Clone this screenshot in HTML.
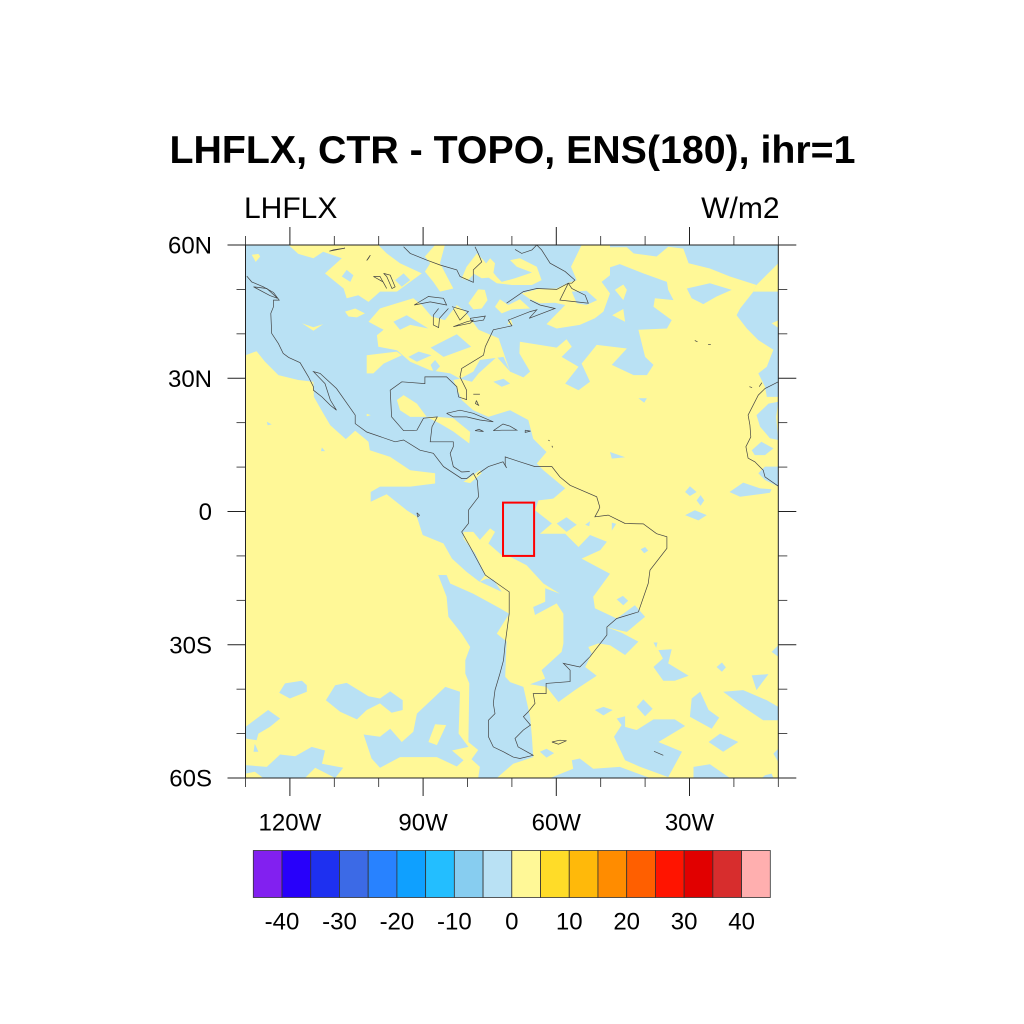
<!DOCTYPE html>
<html><head><meta charset="utf-8"><title>LHFLX map</title>
<style>html,body{margin:0;padding:0;background:#fff}svg{display:block}text{font-family:"Liberation Sans",Arial,sans-serif;fill:#000}</style>
</head><body>
<svg id="chart" xmlns="http://www.w3.org/2000/svg" width="1024" height="1024" viewBox="0 0 1024 1024">
<rect width="1024" height="1024" fill="#fff"/>
<defs><clipPath id="plotClip"><rect x="245.5" y="245" width="532.8" height="533"/></clipPath></defs>
<text x="512.5" y="163" text-anchor="middle" font-size="39.3" font-weight="bold">LHFLX, CTR - TOPO, ENS(180), ihr=1</text>
<text x="244" y="218" font-size="30">LHFLX</text>
<text x="779.5" y="218" font-size="30" text-anchor="end">W/m2</text>
<g id="field" clip-path="url(#plotClip)"></g>
<g id="coasts" clip-path="url(#plotClip)" fill="none" stroke="#444" stroke-width="0.7"></g>
<g id="axes"></g>
<g id="legend"></g>
</svg>
<script>
// Axis domain
const lonRange = [-130, -10];
const latRange = [60, -60];
const lonMajor = [-120, -90, -60, -30];
const lonLabels = ['120W', '90W', '60W', '30W'];
const lonMinor = [-130, -110, -100, -80, -70, -50, -40, -20, -10];
const latMajor = [60, 30, 0, -30, -60];
const latLabels = ['60N', '30N', '0', '30S', '60S'];
const latMinor = [50, 40, 20, 10, -10, -20, -40, -50];
// Colour levels
const cbLevels = [-40,-35,-30,-25,-20,-15,-10,-5,0,5,10,15,20,25,30,35,40];
const cbLabels = ['-40','-30','-20','-10','0','10','20','30','40'];
const cbColors = ['#8220f0','#2800fa','#1e30f0','#3c6ae6','#2882ff','#0fa0ff','#23beff','#87cdf0','#b9e1f4','#fff897','#ffdc28','#ffb90a','#ff8c00','#ff5f00','#ff1400','#e10000','#d72d2d','#ffafaf'];
// Study box: lon west, lon east, lat north, lat south
const studyBox = [-72, -65, 2, -10];
// Field regions (lon,lat pairs) of the class -5..0
const blueMain = [-130,60,-10,60,-10,25.8,-12.6,25.8,-13,28.1,-14.5,31.1,-12.6,32.6,-11.1,36.4,-14.5,38.6,-17.1,41.2,-19.4,44.2,-18.6,45.7,-15.6,49.5,-14.9,51,-20.9,52.9,-25.4,54.7,-30.2,55.9,-31.4,59.2,-34.8,59.6,-37.4,57.4,-42.6,58.1,-44.1,59.5,-47.9,59.5,-48.7,54.7,-45.7,55.7,-40.4,53.6,-35.1,51.7,-34.8,49.9,-33.6,47.6,-37.8,48,-38.1,46.1,-34,43.1,-35.1,41.2,-41.5,40.9,-40,34.8,-38.1,33,-39.6,30.7,-42.6,30.7,-47.5,33,-44.1,36.7,-50.9,37.5,-54.3,33.3,-52.4,29.2,-55,27.3,-58,28.8,-55,32.6,-58.8,34.8,-56.5,37.1,-57.7,38.8,-59.9,36.9,-68.2,38.2,-68.3,35.6,-65.9,31.5,-67.4,30.2,-70.4,31.5,-73.4,34.8,-77.5,31.1,-79,29.2,-81.7,29.9,-83.2,29.6,-81.3,25.1,-78.7,22.8,-75.3,21.3,-70.4,22.8,-66.3,20.6,-65.2,16.4,-62.2,13.4,-64.4,10.8,-62.9,9.3,-58,5.2,-60.7,2.9,-64,2.5,-64.8,0.3,-61,-2.7,-63.7,-5,-58,-5,-55,-8,-52.4,-5.3,-48.6,-6.8,-50.1,-8.7,-54.3,-10.6,-47.9,-14,-51.7,-19.2,-51.3,-21.8,-46.4,-24.1,-42.3,-21.1,-40,-23.7,-44.1,-27.1,-46,-26.7,-48.7,-26,-45.3,-27.3,-41.5,-29.3,-44.5,-32.3,-47.9,-30.1,-50.5,-29.7,-52.8,-30.5,-52,-32,-53.5,-35,-50.9,-37,-55.8,-40.2,-59.5,-42.9,-62.2,-39.5,-65.9,-38.9,-62.5,-37.6,-63.3,-35.7,-58.8,-31.6,-58.4,-29.7,-58.4,-23,-59.9,-20.7,-64.8,-23.3,-65.2,-21.5,-62.5,-20.3,-62.5,-17.3,-59.2,-18.5,-62.9,-16.2,-66.7,-12.1,-70.4,-10.2,-71.9,-10.2,-75.3,-7.2,-73.8,-4.6,-74.9,-3.8,-77.2,-6.4,-78.7,-4.6,-80.9,-4.6,-80.9,-6.1,-78.3,-9.4,-76,-14.3,-77.3,-15.8,-80.2,-13.6,-83.5,-10.6,-85.4,-7.2,-90.1,-5.3,-91.4,-1.2,-93.7,0.3,-98.2,3.9,-101.8,2.2,-101.8,4.4,-99.7,5.6,-92.9,5.6,-87.3,6.3,-87.3,8.6,-92.9,9.3,-97.4,12.3,-102,13.8,-102.3,15.7,-105.3,18.2,-107.4,16.3,-110.9,19.4,-112.5,22.1,-114.6,25.8,-114.7,29.2,-118.1,29.6,-122.6,30.7,-125.6,33.7,-127.5,36.1,-130,35.2];
const blueChile = [-86.6,-14.3,-84.7,-14.3,-83.9,-16.2,-78.7,-18.5,-72.7,-21.8,-70.6,-23,-73.4,-27.5,-71.2,-29.3,-71.5,-37.2,-70.4,-38.4,-67.4,-39.5,-65.9,-46.2,-65.5,-50.7,-65.2,-55.3,-69.7,-56.8,-73.4,-60,-77.6,-60,-77.2,-57.5,-79.1,-55.8,-77.6,-53.7,-79.8,-51.9,-79.6,-38.7,-80.5,-36.5,-80.5,-33.5,-79.4,-30.5,-81.3,-27.5,-84.3,-23.7,-84.7,-19.2];
const blueBlobs = [
[-77.2,-15.8,-72.3,-18.1,-74.2,-15.3,-75.7,-15.1],
[-103.4,-50.2,-99.7,-50.7,-97.4,-48.9,-94.8,-51.9,-92.2,-49.6,-91.4,-45.5,-85,-39.5,-81.7,-40.6,-82,-50,-79.8,-53,-83.5,-53.8,-80.9,-56,-82.4,-57.4,-86.9,-55.3,-95.2,-55.3,-99.7,-57.7,-101.6,-55.6],
[-122.4,-40.8,-121.1,-38.7,-117.3,-38.1,-116.2,-39.1,-116.2,-40.6,-120,-42.1],
[-111.9,-42.5,-109.8,-39.1,-107.2,-38.6,-102.3,-41.6,-99.7,-42.1,-97.4,-40.5,-94.6,-42.5,-94.6,-44.7,-97.1,-45.3,-99.7,-43.2,-102.7,-44.7,-104.9,-46.8,-108.7,-45.1],
[-130,-48.5,-124.9,-44.7,-122.2,-46.6,-124.5,-48.5,-127.1,-50,-127.5,-51.5,-130,-51.1],
[-130,-57.1,-125.2,-57.5,-122.2,-54.7,-118.8,-55.1,-115.1,-53,-112.1,-53.8,-112.8,-56.8,-108,-57.7,-109.8,-60,-114.3,-57.7,-116.6,-60,-126,-60,-127.9,-58.6,-130,-59],
[-127.9,-52.3,-127.1,-54.1,-128.2,-54.1],
[-31,-0.8,-28.8,0.3,-26.1,-0.8,-28,-2],
[-59.9,-2.7,-57.7,-1.3,-55.4,-3,-57.7,-4.6],
[-53.5,-3,-52.4,-2.2,-52.6,-3.3],
[-47.5,-2.5,-46.5,-2.8,-47.5,-4.3],
[-41,-8.5,-40,-8,-39.3,-8.8,-40.2,-9.4],
[-46.4,-19.8,-45,-19,-43.8,-20.1,-44.9,-21.1],
[-38.1,-29.5,-37.2,-29.5,-37.5,-30.7],
[-37,-31.2,-34,-31,-34.8,-34.2,-30.2,-37,-33.3,-38.1,-35.9,-38.1,-38.1,-35,-36,-33.1],
[-23.9,-35,-22.7,-34,-21.8,-35.1,-22.7,-36.1],
[-16,-36.9,-12.2,-36.6,-14.9,-40.2],
[-22.4,-40.6,-17.9,-40.2,-12.6,-42.5,-10,-44,-10,-47,-13.4,-47,-17.9,-44],
[-10,-30.1,-11.5,-31.6,-10,-32.7],
[-51.3,-44.7,-49.4,-44,-47.3,-44.7,-49.4,-45.9],
[-41.9,-44,-40.4,-42.3,-38.3,-44.4,-40,-46.1],
[-29.5,-42.1,-27.6,-40.6,-25.7,-44.7,-23.3,-46.4,-25,-48.9,-29.9,-46.2],
[-25.7,-51.9,-23.1,-50,-19,-51.9,-22.4,-54.1],
[-46.4,-46.6,-44.5,-46.1,-44.5,-48.5,-41.9,-49.2,-38.1,-46.8,-33.3,-46.8,-31,-48.3,-37,-51.9,-31.7,-54.1,-34.8,-59.8,-41.1,-57.5,-44.5,-56,-47,-50.7,-45.3,-48.1],
[-63.7,-54.1,-62.2,-53.4,-60.5,-54.4,-62.2,-55.4],
[-56.5,-56,-54.7,-55.6,-51.7,-57.9,-45.7,-57.5,-38.9,-60,-61.4,-60,-56.2,-57.9],
[-29.1,-57.5,-25.4,-56.9,-20.9,-60,-29.1,-60],
[-11.1,-54.5,-10,-53.4,-10,-56.4],
[-13,-59.4,-11.5,-59,-11.1,-60,-13.7,-60],
[-30.6,50.2,-25.4,51.4,-20.5,49.9,-23.9,48.4,-26.9,46.7,-29.5,48],
[-41.5,25.5,-39.6,25.5,-40.2,24.5],
[-47.9,13.4,-44.5,12.2,-47.5,11.9],
[-31,4.4,-29.9,5.7,-28.4,4.4,-29.9,3.5],
[-28.4,2.5,-27.5,3.7,-26.7,2.5,-27.5,1.3],
[-21,4.4,-17.9,6.5,-14.1,5.2,-11.5,5,-11.9,4.2,-18.6,3.3],
[-16,13.8,-13.8,15.7,-11.1,14.2,-13,12.7,-15.3,12.7],
[-10,24.7,-12.2,24.3,-14.9,21.7,-14.1,19.1,-11.9,16.5,-10,16.1,-10.5,21.3],
[-14.5,8.6,-13,10.1,-10,10.1,-10,5.6,-13,7.1],
[-74.2,29.2,-71.9,29.9,-70.4,28.8,-72.3,28.1],
[-125.2,20.2,-124.1,19.6,-125,19.4],
[-112.8,14.4,-112.1,13.6,-113,13.6]
];
// Field regions of the class 0..5 lying over the blue
const yellowIslands = [
[-120.3,60,-100.1,60,-98.2,58.1,-95.2,55.9,-90.3,53.6,-95.9,49.5,-99.7,49.5,-102.3,47.2,-104.6,48.7,-107.2,48,-107.9,50.2,-112.1,53.6,-108.3,57,-112.5,58.5,-114.7,57,-118.1,58],
[-89.6,57.4,-87.3,60,-85.1,60,-86.2,55.9,-83.2,50.2,-86.2,49.5,-87.7,51.7,-89.6,54,-88.4,55.9],
[-81.3,52.5,-80.2,55.1,-77.9,58.1,-76.4,56.6,-73.4,52.8,-76.8,52.5,-78.5,53.5,-80,52],
[-70.4,56.6,-68.2,57,-64.4,55.1,-63.3,52.1,-65.5,51,-70,51,-73.4,51.4,-77.2,54,-74.9,57,-73.8,55.9,-74.2,53.6,-72.3,51.7,-69.3,52.5,-65.5,53.8,-68.9,55.1],
[-128.6,57.8,-127.1,58,-126.7,57.4,-127.7,56.2],
[-117.3,42.4,-114.7,41.5,-112.5,42.2,-114.7,40.7],
[-107.6,45,-105.3,45.7,-103.1,44.6,-104.9,43.7,-106.8,43.9],
[-79.8,46.9,-77.6,50,-76.1,49.9,-75.5,47.6,-76.8,45.7,-78.7,45.5],
[-73.8,46.1,-72.7,47.8,-70.8,46.5,-68.2,47.8,-65.9,45.7,-70,45.5,-72.3,44.6],
[-71,42.2,-70.3,43.3,-69.8,42],
[-102.3,42.7,-99.7,45.7,-95.9,46.9,-92.2,48,-90.3,46.5,-88.1,43.9,-85.1,43.1,-82.4,46.5,-80.5,45,-77.5,40.9,-73,39,-70.4,31.5,-71.9,34.8,-77.2,34.1,-78.7,31.5,-81.7,29.9,-83.9,31.1,-88.4,31.8,-92.9,33.7,-95.9,36.3,-100.1,37.1,-100.4,39.7,-98.9,40.9],
[-102.7,35.2,-95.9,36,-94.8,35.2,-98.9,33.3,-101.2,31.1,-102.7,31.1],
[-95.9,25.1,-94.4,26.2,-91.4,24.3,-89.2,21.3,-86.9,21.3,-83.2,21,-79.4,17.9,-79.6,15.3,-83.2,18,-86.2,19.8,-89.2,21.3,-92.9,21.3,-95.2,22.8],
[-80.9,6.7,-77.2,9.3,-76.8,8.6,-79.4,6.4],
[-102.7,22,-101.8,21.7,-102.7,21.4],
[-47.9,60,-54.3,60,-56.7,55.1,-55.4,52.1,-57.3,51.5,-59.9,50.2,-63.7,50.2,-67.8,49.1,-65.9,47.8,-63.7,46.9,-60.3,47,-58,46.5,-62.2,42.2,-59.9,41.2,-54.7,42,-51.3,43.5,-49.4,45,-47.9,49.1,-49.8,51.7,-47.9,53.2],
[-46.8,49.9,-44.9,51.1,-44.1,49.9,-44.9,47.6],
[-47.4,44.2,-44.9,45.6,-44.5,42.7],
[-11.5,42.4,-9.8,43.1,-9.8,41.2],
[-10,55.9,-14.9,51,-15.6,49.5,-10,49.5],
[-87.3,-47.9,-84.8,-48.1,-86.9,-52.6,-88.8,-51.9]
];
// Blue holes inside the yellow islands
const blueHoles = [
[-108.3,52.9,-107.2,54.4,-105.7,53.2,-106.4,51.7],
[-96.3,52.1,-94.4,53.6,-92.9,52.1,-94.8,50.6],
[-96.7,42.7,-93.7,44.2,-88.8,41.2,-92.9,42,-95.2,40.9],
[-88.3,36.9,-82.4,39.9,-79.2,37.1,-85.4,34.8],
[-93.3,34.8,-91,36,-88.1,35.2,-91.4,33.7],
[-88.3,33,-87.3,34.1,-86.2,32.7,-87.5,31.2],
[-56.5,49.5,-53.2,49.7,-50.8,47.6,-53.2,46.5,-55.4,46.9]
];
// Coastline polylines (lon,lat pairs)
const coastAmericas = [-129.7,53,-128.6,51.7,-126,50.6,-123.7,49.3,-122.4,47.6,-123.7,47.6,-123.7,46.1,-124.3,44.6,-124.1,40.1,-122.6,37.8,-121.5,35.6,-120.3,34.7,-117.7,33.5,-115.8,30.3,-114.7,28.1,-114.7,27.3,-112.8,25.8,-110.9,23.9,-109.5,22.8,-110.9,25.1,-112.1,28.8,-114.7,31.5,-113.2,31.1,-109.5,27.7,-105.3,21.7,-105.3,19.8,-102.7,17.9,-96.3,15.7,-94.4,16.1,-90.7,13.8,-87.7,13.1,-85.4,10.1,-81.3,7.4,-80.2,7.4,-78.7,8.6,-77.8,7,-77.5,3.3,-79.8,0.3,-79.8,-2.7,-81.3,-4.6,-79.4,-8,-76,-14.3,-70.6,-18.1,-70.6,-23,-71.5,-29.7,-71.9,-33.5,-72.7,-36.5,-73.8,-40.2,-74.2,-43.2,-73.8,-45.5,-75.3,-47,-75.3,-50.7,-74.2,-53,-71.9,-54.1,-69.7,-55.3,-68.2,-55.6,-65.2,-54.9,-68.6,-53,-69.3,-51.1,-67.4,-49.2,-65.8,-48.1,-67.4,-46.2,-66.3,-45.1,-64.8,-43.2,-65.2,-41,-62.3,-41,-62.3,-38.7,-56.9,-38.3,-56.9,-35.7,-58.4,-34.2,-54.7,-35,-52.4,-32.7,-48.6,-27.8,-48.6,-26,-46.4,-24.1,-41.5,-22.6,-39.3,-16.2,-38.9,-13.2,-35.1,-8.3,-35.1,-5.7,-37.4,-5,-40.4,-2.8,-44.5,-2.7,-48.3,-0.8,-51.3,-1.2,-50.5,0.3,-50.2,1,-50.9,3.3,-56.9,5.9,-59.2,7.8,-61,10.1,-64.8,10.1,-68.2,11.2,-70.4,11.9,-71.5,12.3,-71.5,10.5,-71.2,9.8,-72,11.2,-75.3,10.1,-77.5,8.6,-77.8,8.3];
const coastGulf = [-79.5,9,-81.3,8.9,-83.2,10.1,-83.9,13.1,-83.2,14.6,-83.2,15.7,-88.4,15.7,-88,19.1,-86.8,21.3,-89.9,21,-91.4,18.3,-94.4,18.2,-97.1,21.3,-97.4,27.3,-94.8,29.2,-89.6,28.8,-89.6,30.3,-84.7,30.3,-82.4,28.1,-82,25.8,-80.2,25.2,-80.2,27.3,-81.7,30.3,-81.3,32.2,-76.4,35.2,-76,37.1,-74.2,40.9,-70,41.8,-70.8,43.1,-65.9,45,-64.4,45.4,-66.1,43.5,-60.3,45.7,-63.7,46.5,-65.9,47.6];
const coastLabrador = [-71.2,46.9,-67.4,49.5,-64.4,50.2,-59.9,50,-57.3,51.4,-56.5,51.4,-55.8,52.1,-58,54,-61.4,55.9,-63.3,58.9,-64.4,60];
const coastHudson = [-94.4,59.6,-92.9,58.1,-89.2,56.6,-86.2,55.5,-82.4,54.4,-81.7,52.9,-78.7,51.6,-78.7,54.4,-76.8,56.2,-77.6,58.1,-78.3,59.6];
const coastUngava = [-69.3,59,-67.8,58.1,-65.5,58.9,-64.4,60];
const coastNewfoundland = [-57.3,51.4,-59.2,47.6,-55.4,47.2,-52.8,46.9,-53.5,48.7,-56.5,50.2,-57.3,51.4];
const coastAfrica = [-10,29.2,-13,27.7,-14.5,26.2,-16.8,21.7,-16.4,19.5,-16.2,16.8,-17.3,14.6,-16.8,12,-15.3,11.2,-13.4,9.3,-13,7.8,-10,5.7];
const coastVancouver = [-128.2,50.6,-125.2,50.2,-122.8,48,-124.5,48.6,-128.2,50.6];
const coastIslands = [
[-92,46.5,-88.8,48.4,-85.4,48,-84.7,46.5,-88.4,47.2,-92,46.5],
[-86.5,45.7,-87.7,44.2,-87.7,42,-86.5,41.4,-86.3,43.5,-84.3,45.7],
[-83.5,46.1,-79.8,45,-81.7,43.1,-83.2,45.7],
[-83.2,41.6,-80.2,42.7,-78.7,43.1,-79.4,42.4,-83.2,41.6],
[-79.4,43.5,-76,44,-76.4,43.1,-79,42.7,-79.4,43.5],
[-101.2,52.9,-99.7,52.9,-98.2,50.2,-99,51.7,-101.2,52.9],
[-98.9,53.6,-97.4,53.2,-96.3,50.6,-97,50.2,-98.2,52.9,-98.9,53.6],
[-111.1,58.6,-107.6,59.3,-110.2,58.9,-111.1,58.6],
[-102.7,56.5,-101.9,57.7,-102.3,57,-102.7,56.5],
[-84.7,22.1,-81.7,22.8,-78.7,22.1,-74.2,20.2,-77.2,20.6,-80.2,21.3,-83.2,21.3,-84.7,22.1],
[-74.2,18.2,-72.3,18.3,-68.9,18.3,-70.4,19.2,-72,19.7,-74.2,18.2],
[-78.3,18.2,-76.4,18,-77.4,18.5,-78.3,18.2],
[-67,18.3,-65.8,18.1,-67,17.8,-67,18.3],
[-78.7,26.4,-77.2,26.4],
[-78,25,-77.5,23.9,-78.2,24.3,-78,25],
[-61.8,16.1,-61.5,15.9],
[-61,14.8,-60.8,14.4],
[-28.8,38.5,-28.2,38.2],
[-25.8,37.6,-25.2,37.6],
[-16.5,28.1,-15.9,27.9],
[-14.3,28.1,-13.7,29],
[-61,-51.9,-59.2,-51.5,-57.7,-51.6,-59.5,-52.4,-61,-51.9],
[-38,-54,-35.9,-54.9],
[-91.4,-0.3,-90.8,-0.8,-91.2,-1.2,-91.4,-0.3]
];
const fieldBlue = '#b9e1f4';
const fieldYellow = '#fff897';
const NS = 'http://www.w3.org/2000/svg';
const plotLeft = 245.5, plotRight = 778.3, plotTop = 245, plotBottom = 778;
function xScale(lon) { return plotLeft + (lon - lonRange[0]) / (lonRange[1] - lonRange[0]) * (plotRight - plotLeft); }
function yScale(lat) { return plotTop + (lat - latRange[0]) / (latRange[1] - latRange[0]) * (plotBottom - plotTop); }
function project(flat) {
  const out = [];
  for (let i = 0; i < flat.length; i += 2) out.push(xScale(flat[i]).toFixed(1) + ',' + yScale(flat[i + 1]).toFixed(1));
  return out.join(' ');
}
function addPoly(parent, flat, fill, name) {
  const el = document.createElementNS(NS, 'polygon');
  el.setAttribute('points', project(flat));
  el.setAttribute('fill', fill);
  
  
  parent.appendChild(el);
}
function addLine(parent, x1, y1, x2, y2, name, width) {
  const el = document.createElementNS(NS, 'line');
  el.setAttribute('x1', x1);
  el.setAttribute('y1', y1);
  el.setAttribute('x2', x2);
  el.setAttribute('y2', y2);
  el.setAttribute('stroke', '#222');
  el.setAttribute('stroke-width', width);
  
  
  parent.appendChild(el);
}
function addText(parent, x, y, str, anchor, name) {
  const el = document.createElementNS(NS, 'text');
  el.setAttribute('x', x);
  el.setAttribute('y', y);
  el.setAttribute('font-size', '24');
  el.setAttribute('text-anchor', anchor);
  
  
  el.textContent = str;
  parent.appendChild(el);
}
const field = document.getElementById('field');
const bg = document.createElementNS(NS, 'rect');
bg.setAttribute('x', plotLeft);
bg.setAttribute('y', plotTop);
bg.setAttribute('width', plotRight - plotLeft);
bg.setAttribute('height', plotBottom - plotTop);
bg.setAttribute('fill', fieldYellow);


field.appendChild(bg);
addPoly(field, blueMain, fieldBlue, 'negative-region-main');
addPoly(field, blueChile, fieldBlue, 'negative-region-chile');
blueBlobs.forEach(p => addPoly(field, p, fieldBlue, 'negative-region'));
yellowIslands.forEach(p => addPoly(field, p, fieldYellow, 'positive-region'));
blueHoles.forEach(p => addPoly(field, p, fieldBlue, 'negative-region'));
const coasts = document.getElementById('coasts');
[coastAmericas, coastGulf, coastLabrador, coastHudson, coastUngava, coastNewfoundland, coastAfrica, coastVancouver].concat(coastIslands).forEach(c => {
  const el = document.createElementNS(NS, 'polyline');
  el.setAttribute('points', project(c));
  
  
  coasts.appendChild(el);
});
const axes = document.getElementById('axes');
const box = document.createElementNS(NS, 'rect');
box.setAttribute('x', xScale(studyBox[0]));
box.setAttribute('y', yScale(studyBox[2]));
box.setAttribute('width', xScale(studyBox[1]) - xScale(studyBox[0]));
box.setAttribute('height', yScale(studyBox[3]) - yScale(studyBox[2]));
box.setAttribute('fill', 'none');
box.setAttribute('stroke', '#ff0000');
box.setAttribute('stroke-width', '2');


axes.appendChild(box);
const frame = document.createElementNS(NS, 'rect');
frame.setAttribute('x', plotLeft);
frame.setAttribute('y', plotTop);
frame.setAttribute('width', plotRight - plotLeft);
frame.setAttribute('height', plotBottom - plotTop);
frame.setAttribute('fill', 'none');
frame.setAttribute('stroke', '#222');
frame.setAttribute('stroke-width', '1');


axes.appendChild(frame);
lonMajor.forEach((lon, i) => {
  const x = xScale(lon);
  addLine(axes, x, plotTop - 18, x, plotTop, 'top-major-tick', 1);
  addLine(axes, x, plotBottom, x, plotBottom + 18, 'bottom-major-tick', 1);
  addText(axes, x, 830.7, lonLabels[i], 'middle', 'x-tick-label');
});
lonMinor.forEach(lon => {
  const x = xScale(lon);
  addLine(axes, x, plotTop - 9, x, plotTop, 'top-minor-tick', 0.8);
  addLine(axes, x, plotBottom, x, plotBottom + 9, 'bottom-minor-tick', 0.8);
});
latMajor.forEach((lat, i) => {
  const y = yScale(lat);
  addLine(axes, plotLeft - 18, y, plotLeft, y, 'left-major-tick', 1);
  addLine(axes, plotRight, y, plotRight + 18, y, 'right-major-tick', 1);
  addText(axes, 212, y + 8.7, latLabels[i], 'end', 'y-tick-label');
});
latMinor.forEach(lat => {
  const y = yScale(lat);
  addLine(axes, plotLeft - 9, y, plotLeft, y, 'left-minor-tick', 0.8);
  addLine(axes, plotRight, y, plotRight + 9, y, 'right-minor-tick', 0.8);
});
const legend = document.getElementById('legend');
const cbLeft = 253.3, cbRight = 770.3, cbTop = 850.5, cbBottom = 897.5;
const cbStep = (cbRight - cbLeft) / cbColors.length;
function cbScale(level) { return cbLeft + cbStep + (level - cbLevels[0]) / (cbLevels[1] - cbLevels[0]) * cbStep; }
cbColors.forEach((c, i) => {
  const el = document.createElementNS(NS, 'rect');
  el.setAttribute('x', cbLeft + i * cbStep);
  el.setAttribute('y', cbTop);
  el.setAttribute('width', cbStep);
  el.setAttribute('height', cbBottom - cbTop);
  el.setAttribute('fill', c);
  el.setAttribute('stroke', '#333');
  el.setAttribute('stroke-width', '0.8');
  
  
  legend.appendChild(el);
});
cbLabels.forEach((label, i) => {
  addText(legend, cbScale(Number(label)), 929.5, label, 'middle', 'colorbar-label');
});
</script>
</body></html>
